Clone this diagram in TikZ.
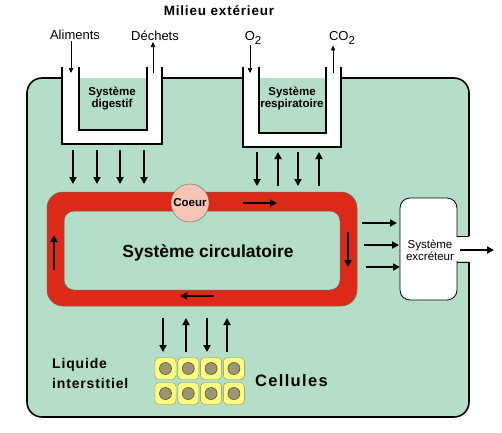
\documentclass[tikz,border=0pt]{standalone}
\usepackage{fontspec}
\setmainfont{Liberation Sans}
\usetikzlibrary{arrows.meta,positioning}
\definecolor{bodygreen}{HTML}{B4DEC8}
\definecolor{loopred}{HTML}{DD2A18}
\definecolor{coeurpink}{HTML}{F7C5B5}
\definecolor{cellyellow}{HTML}{FFFF80}
\definecolor{cellline}{HTML}{8C8C5C}
\definecolor{noyau}{HTML}{9B9774}
\newcommand{\sousdeux}{\raisebox{-3.5pt}{\fontsize{11.5}{12}\selectfont 2}}
\begin{document}
\begin{tikzpicture}[x=1pt,y=-1pt, every node/.style={align=center,inner sep=1pt}, wall/.style={line width=1.6pt}, flow/.style={-{Triangle[length=7pt,width=7pt]},line width=1.8pt}, io/.style={-{Triangle[length=5pt,width=4.5pt]},line width=0.7pt}, small/.style={font=\bfseries\fontsize{11.5}{12}\selectfont}, outer/.style={font=\fontsize{13}{14}\selectfont}, cell/.style={draw=cellline,fill=cellyellow,rounded corners=4pt,minimum width=21pt,minimum height=22pt,inner sep=0pt}]
\useasboundingbox (0,0) rectangle (502,432);
% corps
\fill[bodygreen,rounded corners=15pt] (27,78) rectangle (469,417);
\draw[wall,rounded corners=15pt] (62,78) -- (27,78) -- (27,417) -- (469,417) -- (469,262);
\draw[wall,rounded corners=15pt] (469,236) -- (469,78) -- (341,78);
\draw[wall] (162,78) -- (243,78);
% systemes en U
\fill[white] (62,67) -- (62,144) -- (162,144) -- (162,67) -- (147,67) -- (147,130) -- (79,130) -- (79,67) -- cycle;
\draw[wall] (62,67) -- (62,144) -- (162,144) -- (162,67);\draw[wall] (79,67) -- (79,130) -- (147,130) -- (147,67);
\fill[white] (243,67) -- (243,147) -- (341,147) -- (341,67) -- (326,67) -- (326,133) -- (259,133) -- (259,67) -- cycle;
\draw[wall] (243,67) -- (243,147) -- (341,147) -- (341,67);\draw[wall] (259,67) -- (259,133) -- (326,133) -- (326,67);
\node[small] (digestif) at (112,98) {Système\\digestif};
\node[small] (respiratoire) at (292,98) {Système\\respiratoire};
% milieu exterieur
\node[font=\bfseries\fontsize{13.5}{14}\selectfont\addfontfeature{LetterSpace=6}] (milieu) at (219,11) {Milieu extérieur};
\node[outer] (aliments) at (75,35) {Aliments};
\node[outer] (dechets) at (155,36) {Déchets};
\node[outer] (oxygene) at (253,38) {O\sousdeux};
\node[outer] (carbone) at (342,38) {CO\sousdeux};
\coordinate (alimIn) at (71,73);\coordinate (dechOut) at (153,73);\coordinate (oxIn) at (250,73);\coordinate (coOut) at (333,73);
\draw[io] (alimIn |- aliments.south) -- (alimIn);\draw[io] (dechOut) -- (dechOut |- dechets.south);
\draw[io] (oxIn |- oxygene.south) -- (oxIn);\draw[io] (coOut) -- (coOut |- carbone.south);
% echanges
\foreach \x in {73,97,120,144} \draw[flow] (\x,150) -- (\x,184);
\foreach \x/\a/\b in {257/152/186,278/186/152,298/152/186,319/186/152} \draw[flow] (\x,\a) -- (\x,\b);
% systeme circulatoire
\path[fill=loopred,draw=black!60,line width=0.5pt,even odd rule] [rounded corners=16pt] (47,192) rectangle (357,306) [rounded corners=10pt] (64,211) rectangle (340,290);
\node[circle,draw=black!60,fill=coeurpink,minimum size=38pt,inner sep=0pt,small] (coeur) at (190,203) {Coeur};
\node[font=\bfseries\fontsize{17.5}{18}\selectfont] (circulatoire) at (208,253) {Système circulatoire};
\draw[flow] (243,203) -- (277,203);\draw[flow] (348,232) -- (348,267);\draw[flow] (214,296) -- (180,296);\draw[flow] (54,270) -- (54,235);
% systeme excreteur
\node[draw,line width=0.8pt,fill=white,rounded corners=10pt,minimum width=57pt,minimum height=102pt] (excreteur) at (428.5,249) {};
\fill[white] (454,237) rectangle (470,261);
\draw[line width=0.8pt] (457,236) -- (469,236);\draw[line width=0.8pt] (457,262) -- (469,262);
\node[font=\fontsize{11.5}{12}\selectfont] (excrText) at (430,250) {Système\\excréteur};
\foreach \y/\a/\b in {223/362/397,245/364/399,267/366/400} \draw[flow] (\a,\y) -- (\b,\y);
\draw[flow] (460,250) -- (494,250);
% cellules
\foreach \i in {0,...,3} \foreach \j in {0,1} {\node[cell] (c\i\j) at (165.5+22.8*\i,368.5+25*\j) {};\draw[cellline!60!black,fill=noyau,line width=0.6pt] (c\i\j) circle (6pt);}
\foreach \x/\a/\b in {163/318/352,186/352/318,207/318/352,227/352/318} \draw[flow] (\x,\a) -- (\x,\b);
\node[font=\bfseries\fontsize{14}{20}\selectfont\addfontfeature{LetterSpace=6},align=left,anchor=west] (liquide) at (51,373) {Liquide\\interstitiel};
\node[font=\bfseries\fontsize{16.5}{17}\selectfont\addfontfeature{LetterSpace=8},anchor=west] (cellules) at (254,381) {Cellules};
\end{tikzpicture}
\end{document}
